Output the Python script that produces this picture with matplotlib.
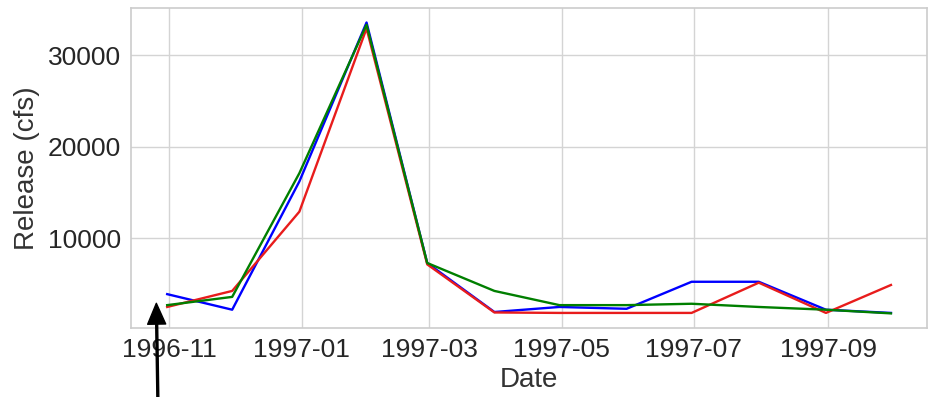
import matplotlib
matplotlib.use("Agg")
import matplotlib.pyplot as plt
import matplotlib.dates as mdates
import pandas as pd

dates = pd.to_datetime(["1996-10-31", "1996-11-30", "1996-12-31", "1997-01-31",
                        "1997-02-28", "1997-03-31", "1997-04-30", "1997-05-31",
                        "1997-06-30", "1997-07-31", "1997-08-31", "1997-09-30"])
blue_vals = [3900, 2200, 16200, 33550, 7300, 1950, 2500, 2300, 5250, 5250, 2200, 1850]
red_vals = [2500, 4250, 12900, 32900, 7150, 1900, 1850, 1850, 1850, 5150, 1850, 4900]
green_vals = [2700, 3600, 17100, 33300, 7300, 4250, 2700, 2700, 2850, 2500, 2200, 1800]

plt.rcParams['font.family'] = ['Liberation Sans', 'DejaVu Sans']
fig = plt.figure(figsize=(9.29, 3.97), dpi=100)
ax = fig.add_axes([0.141, 0.174, 0.857, 0.806])
ax.set_facecolor('white')
for s in ax.spines.values():
    s.set_color('#cccccc')
    s.set_linewidth(1.2)
ax.grid(True, color='#d4d4d4', linewidth=1.0)
ax.set_axisbelow(True)

ax.plot(dates, blue_vals, color='#0000ff', lw=1.7)
ax.plot(dates, red_vals, color='#e81c1c', lw=1.7)
ax.plot(dates, green_vals, color='#007f00', lw=1.7)

ax.xaxis.set_major_locator(mdates.MonthLocator(bymonth=[1, 3, 5, 7, 9, 11]))
ax.xaxis.set_major_formatter(mdates.DateFormatter('%Y-%m'))
ax.set_yticks([10000, 20000, 30000])
ax.tick_params(axis='both', length=0, labelsize=19, labelcolor='#262626', pad=7)
ax.set_xlabel('Date', fontsize=20, color='#333333', labelpad=4)
ax.set_ylabel('Release (cfs)', fontsize=20, color='#333333', labelpad=6)
ax.margins(x=0.05, y=0.05)

ax.annotate('', xy=(mdates.date2num(pd.Timestamp('1996-10-26')), 2900),
            xytext=(158, -10), textcoords='figure pixels',
            arrowprops=dict(facecolor='black', edgecolor='black', width=1.4,
                            headwidth=13, headlength=15, shrink=0),
            annotation_clip=False)

fig.savefig('out.png', dpi=100, facecolor='white')
